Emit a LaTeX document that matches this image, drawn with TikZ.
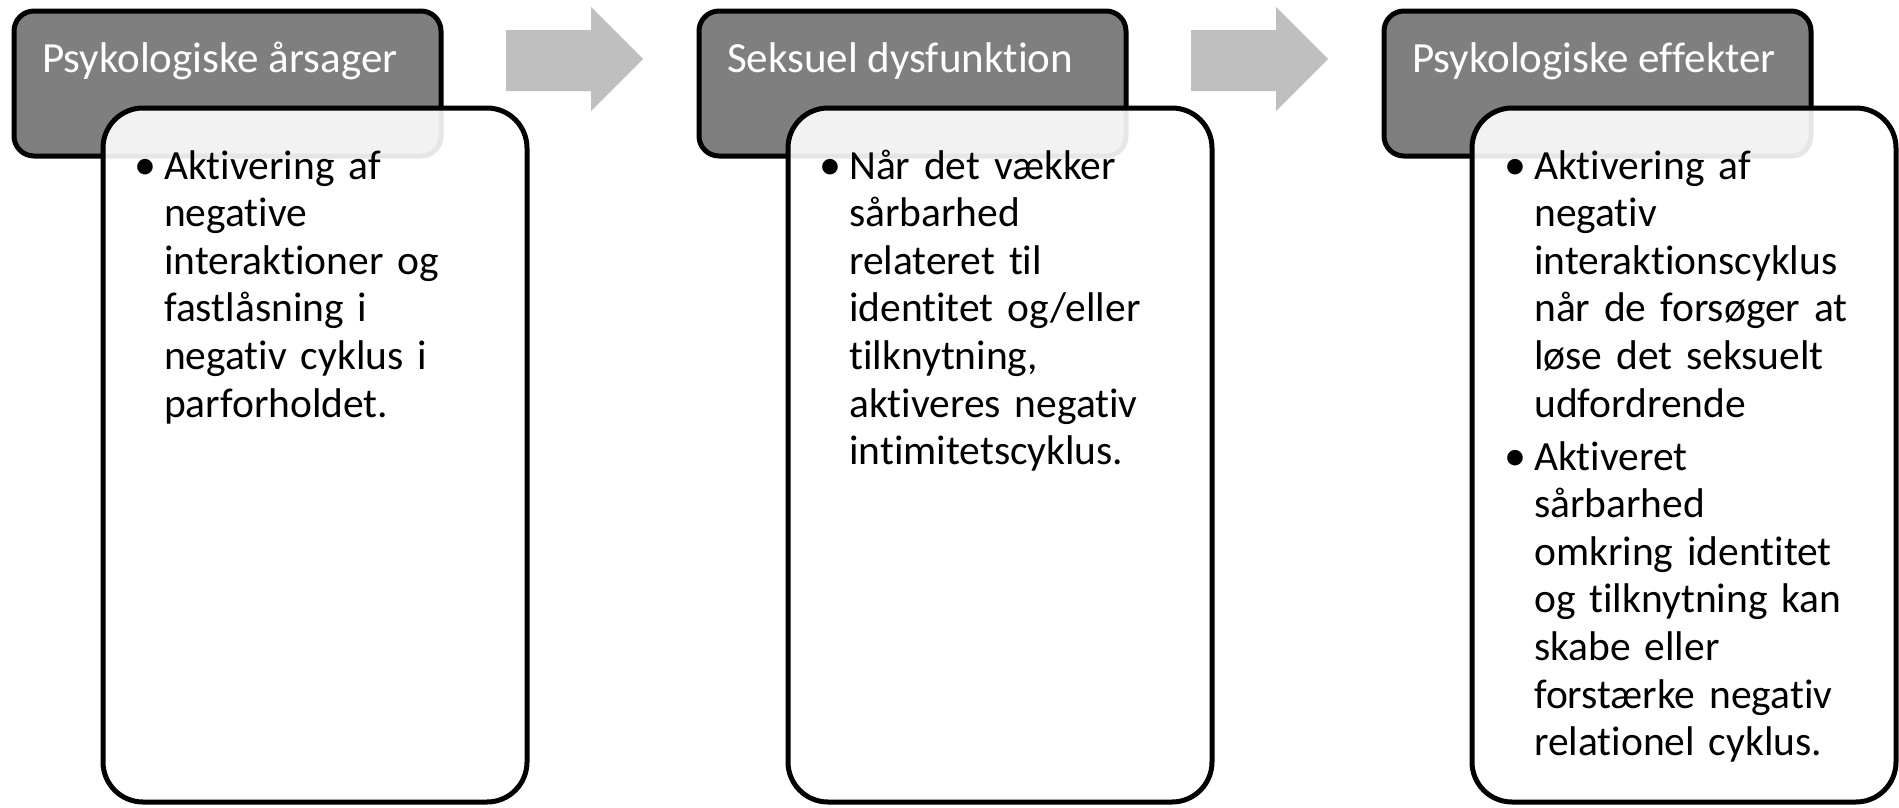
\documentclass[tikz,border=0pt]{standalone}
\usepackage{fontspec}
\setmainfont{Carlito}[Ligatures=NoCommon]
\definecolor{hdrgray}{HTML}{7F7F7F}
\definecolor{arrgray}{HTML}{BFBFBF}
\tikzset{
  hdrbox/.style={draw=black, line width=5pt, fill=hdrgray, rounded corners=20pt,
    minimum width=427pt, minimum height=145pt, anchor=north west, inner sep=0pt, outer sep=0pt},
  bodybox/.style={draw=black, line width=5pt, fill=white, fill opacity=0.9, draw opacity=1,
    rounded corners=40pt, minimum width=424pt, minimum height=694pt, anchor=north west,
    inner sep=0pt, outer sep=0pt},
  hdrtext/.style={text=white, font=\fontsize{43}{50}\selectfont, anchor=base west, inner sep=0pt},
  bodytext/.style={text=black, font=\fontsize{41.5}{47.6}\selectfont, anchor=base west,
    inner sep=0pt, text width=360pt, align=left},
  bulletmark/.style={text=black, font=\fontsize{44}{47.6}\selectfont, anchor=base east, inner sep=0pt},
  flowarrow/.style={fill=arrgray, draw=none}
}
\begin{document}
\begin{tikzpicture}[x=1pt,y=-1pt]
\useasboundingbox (0,0) rectangle (1899,807);
% arrows
\fill[flowarrow] (506,30) -- (591,30) -- (591,7) -- (643,59) -- (591,111) -- (591,91) -- (506,91) -- cycle;
\fill[flowarrow] (1191,30) -- (1276,30) -- (1276,7) -- (1328,59) -- (1276,111) -- (1276,91) -- (1191,91) -- cycle;
% column 1
\node[hdrbox] (h1) at (14,11) {};
\node[bodybox] (b1) at (103,108) {};
\node[hdrtext] (t1) at (42,72) {Psykologiske årsager};
\node[bulletmark] (m1) at (157,179) {•};
\node[bodytext] (c1) at (164,179) {Aktivering af\\negative\\interaktioner og\\fastlåsning i\\negativ cyklus i\\parforholdet.};
% column 2
\node[hdrbox] (h2) at (699,11) {};
\node[bodybox] (b2) at (788,108) {};
\node[hdrtext] (t2) at (727,72) {Seksuel dysfunktion};
\node[bulletmark] (m2) at (842,179) {•};
\node[bodytext] (c2) at (849,179) {Når det vækker\\sårbarhed\\relateret til\\identitet og/eller\\tilknytning,\\aktiveres negativ\\intimitetscyklus.};
% column 3
\node[hdrbox] (h3) at (1384,11) {};
\node[bodybox] (b3) at (1472,108) {};
\node[hdrtext] (t3) at (1412,72) {Psykologiske effekter};
\node[bulletmark] (m3) at (1527,179) {•};
\node[bodytext] (c3) at (1534,179) {Aktivering af\\negativ\\interaktionscyklus\\når de forsøger at\\løse det seksuelt\\udfordrende};
\node[bulletmark] (m4) at (1527,470) {•};
\node[bodytext] (c4) at (1534,470) {Aktiveret\\sårbarhed\\omkring identitet\\og tilknytning kan\\skabe eller\\forstærke negativ\\relationel cyklus.};
\end{tikzpicture}
\end{document}
